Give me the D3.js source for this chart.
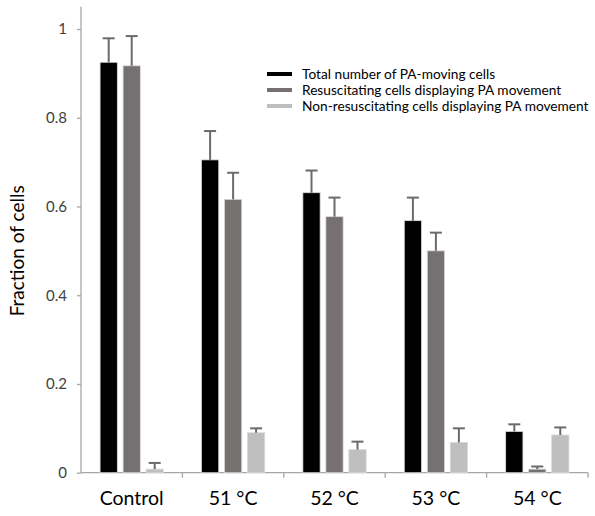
<!DOCTYPE html>
<html>
<head>
  <meta charset="utf-8">
  <title>Fraction of cells</title>
  <script src="https://d3js.org/d3.v7.min.js"></script>
  <style>
    body { margin: 0; background: #fff; }
    text { font-family: Lato, "Open Sans", sans-serif; }
  </style>
</head>
<body>
  <div id="chart"></div>

  <script>
    "use strict"

    // dados
    var categorias = ["Control", "51 °C", "52 °C", "53 °C", "54 °C"];
    var series = ["Total number of PA-moving cells",
                  "Resuscitating cells displaying PA movement",
                  "Non-resuscitating cells displaying PA movement"];
    var totalMedia = [0.925, 0.705, 0.631, 0.568, 0.093];
    var totalErro  = [0.054, 0.065, 0.050, 0.052, 0.016];
    var resusMedia = [0.917, 0.616, 0.577, 0.500, 0.008];
    var resusErro  = [0.067, 0.060, 0.043, 0.041, 0.006];
    var naoMedia   = [0.008, 0.090, 0.052, 0.068, 0.085];
    var naoErro    = [0.014, 0.010, 0.018, 0.032, 0.017];
    var yTicks = [0, 0.2, 0.4, 0.6, 0.8, 1];
    var cores = ["#000000", "#767171", "#bfbfbf"];

    var larguraSVG = 595, alturaSVG = 516;
    var margin = {top: 6.8, right: 7, bottom: 43.3, left: 81};
    var larguraVis = larguraSVG - margin.left - margin.right,
        alturaVis = alturaSVG - margin.top - margin.bottom;

    var medias = [totalMedia, resusMedia, naoMedia];
    var erros = [totalErro, resusErro, naoErro];
    var dados = [];
    categorias.forEach(function (c, i) {
      series.forEach(function (s, j) {
        dados.push({cat: c, serie: s, valor: medias[j][i], erro: erros[j][i], cor: cores[j]});
      });
    });

    var svg = d3.select('#chart')
      .append('svg')
        .attr('width', larguraSVG)
        .attr('height', alturaSVG);

    var grafico = svg.append('g')
        .attr('transform', 'translate(' + margin.left + ',' + margin.top + ')');

    // escalas
    var x0 = d3.scaleBand().domain(categorias).range([0, larguraVis]);
    var x1 = d3.scaleBand().domain(series).range([0, x0.bandwidth()])
               .paddingInner(0.25).paddingOuter(0.83);
    var y = d3.scaleLinear().domain([0, 1.05]).range([alturaVis, 0]);

    // eixo y
    var eixoY = grafico.append('g')
        .call(d3.axisLeft(y).tickValues(yTicks).tickFormat(d3.format('')).tickSize(4).tickPadding(10));
    eixoY.select('.domain').attr('stroke', '#a6a6a6').attr('stroke-width', 1.3).attr('d', 'M0,0V' + alturaVis);
    eixoY.selectAll('.tick line').attr('stroke', '#a6a6a6').attr('stroke-width', 1.3);
    eixoY.selectAll('.tick text').attr('fill', '#404040').style('font-size', '15px');

    // eixo x
    var eixoX = grafico.append('g')
        .attr('transform', 'translate(0,' + alturaVis + ')')
        .call(d3.axisBottom(x0).tickSize(0).tickPadding(18));
    eixoX.select('.domain').attr('stroke', '#a6a6a6').attr('stroke-width', 1.3).attr('d', 'M0,0H' + larguraVis);
    eixoX.selectAll('.tick text').attr('fill', '#000').style('font-size', '19.5px');
    eixoX.selectAll('.divisor')
      .data(categorias.slice(1).concat(['fim']))
      .enter().append('line')
        .attr('x1', (d, i) => x0.step() * (i + 1))
        .attr('x2', (d, i) => x0.step() * (i + 1))
        .attr('y1', 0).attr('y2', 5)
        .attr('stroke', '#a6a6a6').attr('stroke-width', 1.3);

    // barras
    grafico.selectAll('rect.barra')
      .data(dados)
      .enter().append('rect')
        .attr('class', 'barra')
        .attr('x', d => x0(d.cat) + x1(d.serie))
        .attr('y', d => y(d.valor))
        .attr('width', x1.bandwidth())
        .attr('height', d => alturaVis - y(d.valor))
        .attr('fill', d => d.cor)
        .attr('stroke', '#d9d9d9')
        .attr('stroke-width', 0.8);

    // barras de erro
    var eb = grafico.selectAll('g.erro')
      .data(dados)
      .enter().append('g')
        .attr('class', 'erro')
        .attr('transform', d => 'translate(' + (x0(d.cat) + x1(d.serie) + x1.bandwidth() / 2) + ',0)');
    eb.append('line')
        .attr('x1', 0).attr('x2', 0)
        .attr('y1', d => y(d.valor)).attr('y2', d => y(d.valor + d.erro))
        .attr('stroke', '#6b6b6b').attr('stroke-width', 2);
    eb.append('line')
        .attr('x1', -6).attr('x2', 6)
        .attr('y1', d => y(d.valor + d.erro)).attr('y2', d => y(d.valor + d.erro))
        .attr('stroke', '#6b6b6b').attr('stroke-width', 2);

    // titulo do eixo y
    svg.append('text')
        .attr('transform', 'translate(24,' + (margin.top + y(0.5)) + ') rotate(-90)')
        .attr('text-anchor', 'middle')
        .style('font-size', '19px')
        .attr('fill', '#000')
        .text('Fraction of cells');

    // legenda
    var legenda = svg.append('g').attr('transform', 'translate(267,74)');
    var item = legenda.selectAll('g')
      .data(series)
      .enter().append('g')
        .attr('transform', (d, i) => 'translate(0,' + i * 16 + ')');
    item.append('line')
        .attr('x1', 0).attr('x2', 25)
        .attr('stroke', (d, i) => cores[i]).attr('stroke-width', 4);
    item.append('text')
        .attr('x', 35).attr('dy', '0.35em')
        .style('font-size', '13.7px')
        .attr('fill', '#000')
        .text(d => d);
  </script>
</body>
</html>
